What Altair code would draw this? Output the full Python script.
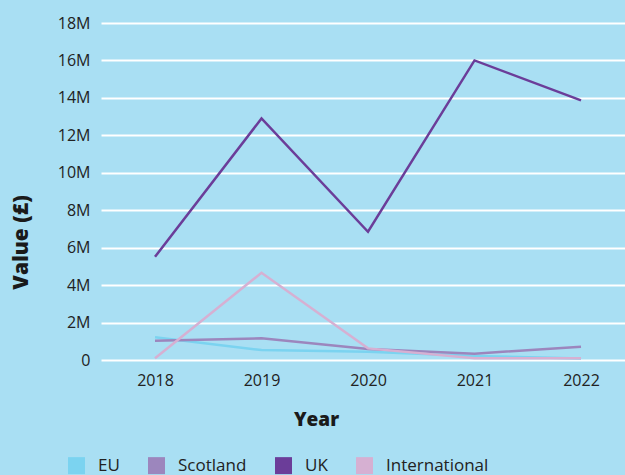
import altair as alt
import pandas as pd

years = [2018, 2019, 2020, 2021, 2022]
series = ["EU", "Scotland", "UK", "International"]
eu = [1210000, 530000, 440000, 220000, 80000]
scotland = [1030000, 1160000, 590000, 340000, 710000]
uk = [5510000, 12900000, 6850000, 16000000, 13870000]
international = [90000, 4660000, 620000, 90000, 90000]
colors = ["#7bd3f0", "#9c86bd", "#6b3d99", "#d6b0d2"]

rows = []
for name, vals in zip(series, [eu, scotland, uk, international]):
    for y, v in zip(years, vals):
        rows.append({"Year": y, "Series": name, "Value": v})
df = pd.DataFrame(rows)

FONT = "Open Sans"

chart = alt.Chart(df).mark_line(strokeWidth=2.5).encode(
    x=alt.X("Year:Q",
            scale=alt.Scale(domain=[2017.493, 2022.413], nice=False, zero=False),
            axis=alt.Axis(values=years, format="d", grid=False, domain=False, ticks=False,
                          labelPadding=12, labelFontSize=16, labelColor="#222222",
                          labelFont=FONT, title="Year", titleFontSize=19,
                          titleFont=FONT, titleFontWeight=800, titleColor="#1a1a1a",
                          titleX=215, titleY=50)),
    y=alt.Y("Value:Q",
            scale=alt.Scale(domain=[0, 18000000], nice=False),
            axis=alt.Axis(values=[i * 2000000 for i in range(10)],
                          labelExpr="datum.value == 0 ? '0' : (datum.value/1000000) + 'M'",
                          grid=True, gridColor="#ffffff", gridWidth=2,
                          domain=False, ticks=False, labelPadding=11,
                          labelFontSize=16, labelColor="#222222", labelFont=FONT,
                          title="Value (£)", titleFontSize=21, titleFont=FONT,
                          titleFontWeight=800, titleColor="#1a1a1a",
                          titleAngle=-90, titleX=-70, titleY=219)),
    color=alt.Color("Series:N",
                    scale=alt.Scale(domain=series, range=colors),
                    legend=alt.Legend(title=None, orient="none", direction="horizontal",
                                      legendX=-33, legendY=434,
                                      symbolType="square", symbolSize=72,
                                      symbolStrokeWidth=8.5, symbolOpacity=1,
                                      labelFontSize=17, labelFont=FONT,
                                      labelColor="#222222", labelOffset=13,
                                      columnPadding=15)),
).properties(
    width=524, height=337,
    background="#a9dff3",
    padding={"left": 101, "top": 23, "right": 0, "bottom": 115},
    autosize=alt.AutoSizeParams(type="none"),
).configure_view(stroke=None)

chart.save("out.html", embed_options={"renderer": "svg", "actions": False})
